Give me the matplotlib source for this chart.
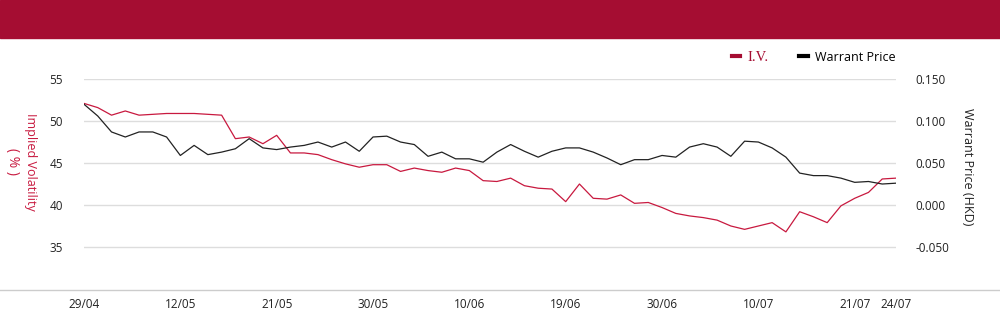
import numpy as np
from matplotlib import pyplot as plt
from matplotlib.lines import Line2D
from matplotlib.patches import Rectangle

plt.rcParams['font.family'] = ['Open Sans', 'DejaVu Sans']

# implied volatility (%) per trading day
iv = [52.1, 51.6, 50.7, 51.2, 50.7, 50.8, 50.9, 50.9, 50.9, 50.8,
      50.7, 47.9, 48.1, 47.3, 48.3, 46.2, 46.2, 46.0, 45.4, 44.9,
      44.5, 44.8, 44.8, 44.0, 44.4, 44.1, 43.9, 44.4, 44.1, 42.9,
      42.8, 43.2, 42.3, 42.0, 41.9, 40.4, 42.5, 40.8, 40.7, 41.2,
      40.2, 40.3, 39.7, 39.0, 38.7, 38.5, 38.2, 37.5, 37.1, 37.5,
      37.9, 36.8, 39.2, 38.6, 37.9, 39.9, 40.8, 41.5, 43.1, 43.2]

# warrant price (HKD)
warrant = [0.120, 0.106, 0.087, 0.081, 0.087, 0.087, 0.081, 0.059, 0.071, 0.060,
           0.063, 0.067, 0.079, 0.068, 0.066, 0.069, 0.071, 0.075, 0.069, 0.075,
           0.064, 0.081, 0.082, 0.075, 0.072, 0.058, 0.063, 0.055, 0.055, 0.051,
           0.063, 0.072, 0.064, 0.057, 0.064, 0.068, 0.068, 0.063, 0.056, 0.048,
           0.054, 0.054, 0.059, 0.057, 0.069, 0.073, 0.069, 0.058, 0.076, 0.075,
           0.068, 0.057, 0.038, 0.035, 0.035, 0.032, 0.027, 0.028, 0.025, 0.026]

tick_idx = [0, 7, 14, 21, 28, 35, 42, 49, 56, 59]
tick_labels = ['29/04', '12/05', '21/05', '30/05', '10/06', '19/06',
               '30/06', '10/07', '21/07', '24/07']

RED = '#c8193f'
BANNER = '#a50d32'
GRID = '#dddddd'

fig = plt.figure(figsize=(10, 3.24), dpi=100)
ax = fig.add_axes([0.084, 0.105, 0.812, 0.651])
ax2 = ax.twinx()

x = np.arange(len(iv))
ax.plot(x, iv, color=RED, lw=0.9, zorder=3)
ax2.plot(x, warrant, color='#222222', lw=0.9, zorder=3)

ax.set_xlim(0, len(iv) - 1)
ax.set_ylim(29.88, 55)
ax2.set_ylim((29.88 - 40) * 0.01, 0.15)

ax.set_yticks([35, 40, 45, 50, 55])
ax2.set_yticks([-0.05, 0.0, 0.05, 0.10, 0.15])
ax2.set_yticklabels(['%.3f' % v for v in [-0.05, 0.0, 0.05, 0.10, 0.15]])
ax.grid(axis='y', color=GRID, lw=1)
ax.set_axisbelow(True)

ax.set_xticks(tick_idx)
ax.set_xticklabels(tick_labels)
ax.tick_params(axis='x', length=0, pad=5.5, labelsize=8.5, colors='#222222')
ax.tick_params(axis='y', length=0, pad=15, labelsize=8.5, colors='#222222')
ax2.tick_params(axis='y', length=0, pad=14, labelsize=8.5, colors='#222222')

for a in (ax, ax2):
    for s in a.spines.values():
        s.set_visible(False)

# header banner and bottom rule
fig.patches.append(Rectangle((0, 1 - 38 / 324), 1, 38 / 324,
                             transform=fig.transFigure, color=BANNER, zorder=0))
fig.add_artist(Line2D([0, 1], [0.105, 0.105], transform=fig.transFigure,
                      color='#cccccc', lw=1))

fig.text(0.030, 0.5015, 'Implied Volatility', rotation=270, color=RED,
         ha='center', va='center', fontsize=9)
fig.text(0.012, 0.5015, '( % )', rotation=270, color=RED,
         ha='center', va='center', fontsize=10)
fig.text(0.968, 0.485, 'Warrant Price (HKD)', rotation=270, color='#222222',
         ha='center', va='center', fontsize=9)

handles = [Line2D([], [], color=BANNER, lw=3), Line2D([], [], color='black', lw=3)]
leg = fig.legend(handles, ['I.V.', 'Warrant Price'], loc='center right',
                 bbox_to_anchor=(0.907, 0.824), ncol=2, frameon=False,
                 handlelength=0.7, handletextpad=0.6, columnspacing=2.4,
                 fontsize=9)
leg.get_texts()[0].set_color(BANNER)
leg.get_texts()[0].set_family(['Liberation Serif', 'DejaVu Serif'])
leg.get_texts()[0].set_fontsize(10.5)

fig.savefig('out.png', dpi=100)
